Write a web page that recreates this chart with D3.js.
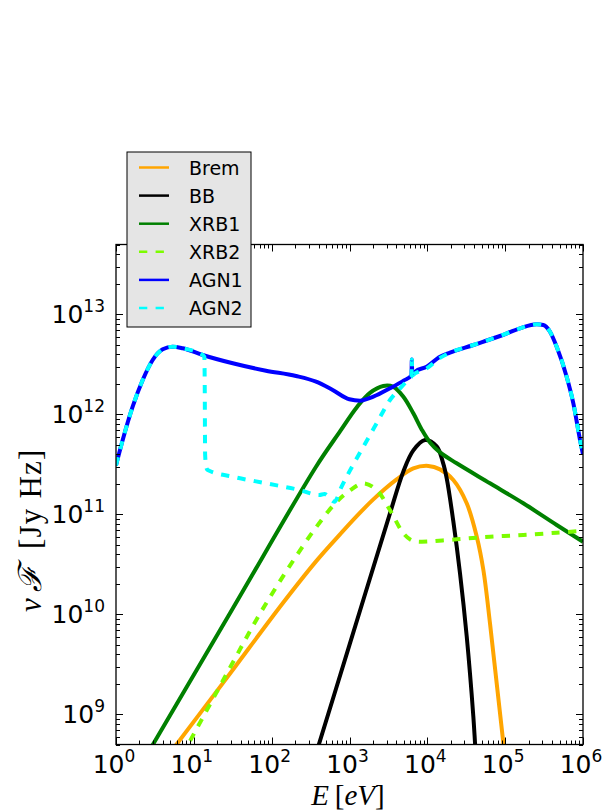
<!DOCTYPE html>
<html>
<head>
<meta charset="utf-8">
<script src="https://cdn.jsdelivr.net/npm/d3@7"></script>
<style>
  body { margin: 0; background: #fff; }
  svg { display: block; }
</style>
</head>
<body>
<svg id="chart" width="603" height="811"></svg>
<script>
// Spectral components: [log10(E / eV), log10(nuF / Jy Hz)]
const brem = [
  [0.70, 8.62], [1.40, 9.34], [2.142, 10.111], [2.57, 10.53], [2.878, 10.80],
  [3.084, 10.975], [3.306, 11.15], [3.606, 11.35], [3.82, 11.46], [4.013, 11.485],
  [4.163, 11.45], [4.334, 11.344], [4.506, 11.111], [4.635, 10.777], [4.72, 10.444],
  [4.805, 9.911], [4.891, 9.311], [4.977, 8.711], [5.0, 8.55]
];
const bb = [
  [2.55, 8.557], [3.0, 9.695], [3.52, 11.011], [3.692, 11.43], [3.82, 11.64],
  [3.97, 11.744], [4.12, 11.68], [4.2, 11.52], [4.249, 11.36], [4.334, 10.93],
  [4.42, 10.41], [4.506, 9.78], [4.591, 8.98], [4.613, 8.71], [4.63, 8.5]
];
const xrb1 = [
  [0.40, 8.60], [1.5, 10.059], [2.57, 11.477], [2.878, 11.83], [3.092, 12.07],
  [3.263, 12.215], [3.434, 12.284], [3.563, 12.275], [3.692, 12.177], [3.82, 12.011],
  [3.927, 11.85], [4.034, 11.72], [4.163, 11.62], [4.377, 11.511], [4.805, 11.311],
  [5.233, 11.111], [5.662, 10.894], [6.0, 10.727]
];
const xrb2 = [
  [0.85, 8.59], [1.285, 9.211], [1.542, 9.577], [1.799, 9.94], [2.056, 10.27],
  [2.313, 10.58], [2.57, 10.87], [2.827, 11.12], [3.006, 11.24], [3.178, 11.311],
  [3.349, 11.244], [3.52, 11.044], [3.692, 10.811], [3.80, 10.74], [3.90, 10.727],
  [4.377, 10.751], [4.805, 10.777], [5.233, 10.794], [5.662, 10.817], [6.0, 10.835]
];
const agn1 = [
  [0, 11.49], [0.086, 11.744], [0.214, 12.077], [0.343, 12.344], [0.471, 12.544],
  [0.6, 12.651], [0.728, 12.677], [0.857, 12.661], [1.114, 12.594], [1.5, 12.511],
  [1.927, 12.437], [2.313, 12.384], [2.57, 12.327], [2.784, 12.244], [2.998, 12.151],
  [3.135, 12.137], [3.306, 12.177], [3.52, 12.261], [3.70, 12.34], [3.796, 12.39],
  [3.801, 12.55], [3.806, 12.40], [3.842, 12.427], [3.992, 12.477], [4.163, 12.577],
  [4.291, 12.617], [4.591, 12.694], [4.934, 12.784], [5.191, 12.861], [5.405, 12.901],
  [5.49, 12.894], [5.576, 12.827], [5.662, 12.677], [5.79, 12.377], [5.876, 12.111],
  [5.962, 11.744], [6.0, 11.6]
];
const agn2 = [
  [0, 11.49], [0.086, 11.744], [0.214, 12.077], [0.343, 12.344], [0.471, 12.544],
  [0.6, 12.651], [0.728, 12.677], [0.857, 12.661], [1.114, 12.594], [1.135, 12.575],
  [1.14, 12.3], [1.145, 11.6], [1.16, 11.47], [1.178, 11.444], [1.5, 11.377],
  [1.927, 11.311], [2.356, 11.244], [2.613, 11.194], [2.677, 11.204], [2.805, 11.127],
  [2.9, 11.28], [3.0, 11.43], [3.178, 11.677], [3.349, 11.911], [3.52, 12.144],
  [3.67, 12.277], [3.77, 12.36], [3.796, 12.38], [3.801, 12.55], [3.806, 12.39],
  [3.842, 12.41], [3.992, 12.46], [4.163, 12.565], [4.291, 12.617], [4.591, 12.694],
  [4.934, 12.784], [5.191, 12.861], [5.405, 12.901], [5.49, 12.894], [5.576, 12.827],
  [5.662, 12.677], [5.79, 12.377], [5.876, 12.111], [5.962, 11.744], [6.0, 11.6]
];

const seriesNames = ["Brem", "BB", "XRB1", "XRB2", "AGN1", "AGN2"];
const seriesData = [brem, bb, xrb1, xrb2, agn1, agn2];
const seriesColors = ["#ffa500", "#000000", "#008000", "#7cfc00", "#0000ff", "#00ffff"];
const seriesDashed = [false, false, false, true, false, true];
// the AGN templates carry a narrow Fe line, so they keep a monotone curve
const seriesSharp = [false, false, false, false, true, true];

const xTickExps = [0, 1, 2, 3, 4, 5, 6];
const yTickExps = [9, 10, 11, 12, 13];
const xDomain = [1, 1e6];
const yDomain = [5e8, 5e13];

const L = 116, R = 583, T = 244.5, B = 744.5;
const svg = d3.select("#chart");

const x = d3.scaleLog().domain(xDomain).range([L, R]);
const y = d3.scaleLog().domain(yDomain).range([B, T]);

svg.append("defs").append("clipPath").attr("id", "plotClip")
  .append("rect").attr("x", L).attr("y", T).attr("width", R - L).attr("height", B - T);

const smoothLine = d3.line()
  .x(d => x(Math.pow(10, d[0])))
  .y(d => y(Math.pow(10, d[1])))
  .curve(d3.curveCatmullRom.alpha(0.5));
const sharpLine = d3.line()
  .x(d => x(Math.pow(10, d[0])))
  .y(d => y(Math.pow(10, d[1])))
  .curve(d3.curveMonotoneX);

const plot = svg.append("g").attr("clip-path", "url(#plotClip)");
seriesData.forEach((data, i) => {
  plot.append("path")
    .attr("d", (seriesSharp[i] ? sharpLine : smoothLine)(data))
    .attr("fill", "none")
    .attr("stroke", seriesColors[i])
    .attr("stroke-width", 4)
    .attr("stroke-linejoin", "round")
    .attr("stroke-dasharray", seriesDashed[i] ? "8.3,8.3" : null);
});

// log ticks on all four sides, pointing inward
function logTicks(domain) {
  const out = [];
  const d0 = Math.floor(Math.log10(domain[0])), d1 = Math.ceil(Math.log10(domain[1]));
  for (let d = d0; d <= d1; d++) {
    for (let k = 1; k <= 9; k++) {
      const v = k * Math.pow(10, d);
      if (v >= domain[0] * 0.9999 && v <= domain[1] * 1.0001) out.push({ v, major: k === 1 });
    }
  }
  return out;
}
const tickG = svg.append("g").attr("stroke", "#000").attr("stroke-width", 1);
logTicks(xDomain).forEach(t => {
  const px = Math.round(x(t.v)) + 0.5, len = t.major ? 7 : 4;
  tickG.append("line").attr("x1", px).attr("x2", px).attr("y1", B).attr("y2", B - len);
  tickG.append("line").attr("x1", px).attr("x2", px).attr("y1", T).attr("y2", T + len);
});
logTicks(yDomain).forEach(t => {
  const py = Math.round(y(t.v)) + 0.5, len = t.major ? 7 : 4;
  tickG.append("line").attr("y1", py).attr("y2", py).attr("x1", L).attr("x2", L + len);
  tickG.append("line").attr("y1", py).attr("y2", py).attr("x1", R).attr("x2", R - len);
});

svg.append("rect").attr("x", L).attr("y", T).attr("width", R - L).attr("height", B - T)
  .attr("fill", "none").attr("stroke", "#000").attr("stroke-width", 1.3);

// tick labels
const tickFont = "'DejaVu Sans', sans-serif";
xTickExps.forEach(e => {
  const t = svg.append("text")
    .attr("x", x(Math.pow(10, e)) - 2).attr("y", B + 28)
    .attr("text-anchor", "middle")
    .attr("font-family", tickFont).attr("font-size", 25).attr("fill", "#000");
  t.append("tspan").text("10");
  t.append("tspan").attr("dy", -11).attr("font-size", 17).text(e);
});
yTickExps.forEach(e => {
  const t = svg.append("text")
    .attr("x", 105).attr("y", y(Math.pow(10, e)) + 9)
    .attr("text-anchor", "end")
    .attr("font-family", tickFont).attr("font-size", 25).attr("fill", "#000");
  t.append("tspan").text("10");
  t.append("tspan").attr("dy", -11).attr("font-size", 17).text(e);
});

// axis titles
const serif = "'Liberation Serif', 'DejaVu Serif', serif";
const xt = svg.append("text").attr("x", 348).attr("y", 805)
  .attr("text-anchor", "middle").attr("font-family", serif).attr("font-size", 29).attr("fill", "#000");
xt.append("tspan").attr("font-style", "italic").text("E");
xt.append("tspan").text("\u2009[");
xt.append("tspan").attr("font-style", "italic").text("eV");
xt.append("tspan").text("]");

// y title laid out along the rotated baseline, reading upward
const yt = svg.append("g").attr("transform", "translate(41,612) rotate(-90)")
  .attr("font-family", serif).attr("fill", "#000");
yt.append("text").attr("x", 0).attr("y", 0).attr("font-size", 31)
  .attr("font-style", "italic").text("ν");
yt.append("text").attr("x", 20).attr("y", 0).attr("font-size", 32)
  .attr("font-family", "'DejaVu Serif', serif").attr("font-style", "italic").text("ℱ");
yt.append("text").attr("x", 63).attr("y", 0).attr("font-size", 31)
  .attr("letter-spacing", 1.2).text("[Jy Hz]");

// legend
const leg = svg.append("g");
leg.append("rect").attr("x", 127).attr("y", 152).attr("width", 124).attr("height", 175)
  .attr("fill", "#e5e5e5").attr("stroke", "#000").attr("stroke-width", 1);
seriesNames.forEach((name, i) => {
  const cy = 167.5 + i * 28.1;
  leg.append("line").attr("x1", 139).attr("x2", 169).attr("y1", cy).attr("y2", cy)
    .attr("stroke", seriesColors[i]).attr("stroke-width", 2.5)
    .attr("stroke-dasharray", seriesDashed[i] ? "8.3,8.3" : null);
  leg.append("text").attr("x", 189).attr("y", cy + 7)
    .attr("font-family", tickFont).attr("font-size", 19).attr("fill", "#000").text(name);
});
</script>
</body>
</html>
